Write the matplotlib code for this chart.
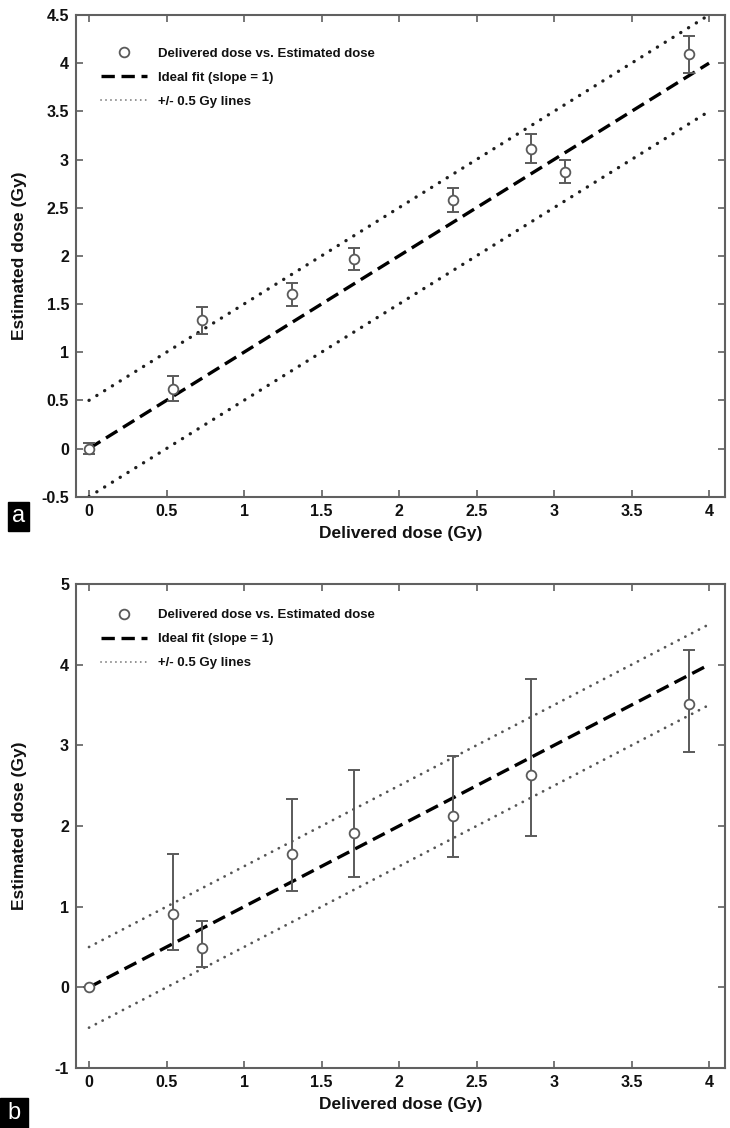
import matplotlib
matplotlib.use('Agg')
import matplotlib.pyplot as plt
import numpy as np

plt.rcParams['font.family'] = ['Liberation Sans', 'DejaVu Sans']

# Panel a data (delivered vs estimated, symmetric error)
delivered_a = [0.0, 0.54, 0.73, 1.31, 1.71, 2.35, 2.85, 3.07, 3.87]
estimated_a = [0.0, 0.62, 1.33, 1.60, 1.965, 2.58, 3.11, 2.875, 4.09]
err_a = [0.06, 0.13, 0.14, 0.12, 0.115, 0.12, 0.15, 0.115, 0.195]

# Panel b data (asymmetric error bars)
delivered_b = [0.0, 0.54, 0.73, 1.31, 1.71, 2.35, 2.85, 3.87]
estimated_b = [0.0, 0.905, 0.49, 1.65, 1.91, 2.13, 2.63, 3.51]
upper_b = [0.0, 1.65, 0.82, 2.33, 2.69, 2.87, 3.82, 4.18]
lower_b = [0.0, 0.46, 0.25, 1.19, 1.37, 1.61, 1.87, 2.92]

ideal_x = [0, 4]
x_ticks = np.arange(0, 4.01, 0.5)
x_ticklabels = ['0', '0.5', '1', '1.5', '2', '2.5', '3', '3.5', '4']
y_ticks_a = np.arange(-0.5, 4.51, 0.5)
y_ticklabels_a = ['-0.5', '0', '0.5', '1', '1.5', '2', '2.5', '3', '3.5', '4', '4.5']
y_ticks_b = np.arange(-1, 5.01, 1)
y_ticklabels_b = ['-1', '0', '1', '2', '3', '4', '5']

W, H = 730, 1128
fig = plt.figure(figsize=(W / 100, H / 100), dpi=100)

spine_col = '#606060'
err_col = '#5a5a5a'


def style_axes(ax, yticks, yticklabels, ylim):
    ax.set_xlim(-0.084, 4.103)
    ax.set_ylim(*ylim)
    ax.set_xticks(x_ticks)
    ax.set_xticklabels(x_ticklabels)
    ax.set_yticks(yticks)
    ax.set_yticklabels(yticklabels)
    for s in ax.spines.values():
        s.set_color(spine_col)
        s.set_linewidth(1.5)
    ax.tick_params(direction='in', length=5, width=1.2, color=spine_col,
                   top=True, right=True, labelsize=11.5, pad=5)
    for lab in ax.get_xticklabels() + ax.get_yticklabels():
        lab.set_fontweight('bold')
        lab.set_color('#111111')
    ax.set_xlabel('Delivered dose (Gy)', fontsize=12.5, fontweight='bold',
                  color='#111111', labelpad=5)
    ax.set_ylabel('Estimated dose (Gy)', fontsize=12.5, fontweight='bold',
                  color='#111111')
    ax.yaxis.set_label_coords((27 - 76) / 649, 0.5)


def draw_panel(ax, x, y, yerr, dot_col, dot_lw, legend_top):
    ax.errorbar(x, y, yerr=yerr, fmt='none', ecolor=err_col, elinewidth=1.4,
                capsize=4.5, capthick=1.4, zorder=3)
    h_pts, = ax.plot(x, y, 'o', ms=7, mfc='white', mec=err_col, mew=1.3,
                     zorder=4)
    h_fit, = ax.plot(ideal_x, ideal_x, color='black', lw=2.4, dashes=(4, 2),
                     zorder=2)
    h_dot, = ax.plot(ideal_x, [v + 0.5 for v in ideal_x], color=dot_col, lw=dot_lw,
                     dashes=(0.05, 2.7), dash_capstyle='round', zorder=2)
    ax.plot(ideal_x, [v - 0.5 for v in ideal_x], color=dot_col, lw=dot_lw,
            dashes=(0.05, 2.7), dash_capstyle='round', zorder=2)
    leg = ax.legend([h_pts, h_fit, h_dot],
                    ['Delivered dose vs. Estimated dose', 'Ideal fit (slope = 1)',
                     '+/- 0.5 Gy lines'],
                    loc='upper left', bbox_to_anchor=(0.028, legend_top),
                    frameon=False, borderpad=0, handlelength=3.5,
                    handletextpad=0.8, labelspacing=0.9,
                    prop={'size': 9.5, 'weight': 'bold'})
    for t in leg.get_texts():
        t.set_color('#111111')
    # legend dotted sample is finer than the plotted line
    leg.get_lines()[2].set_linewidth(1.3)
    leg.get_lines()[2].set_color('#777777')


ax_a = fig.add_axes([76 / W, 1 - 496.7 / H, 649 / W, (496.7 - 15) / H])
draw_panel(ax_a, delivered_a, estimated_a, err_a, '#1e1e1e', 2.4, 0.946)
style_axes(ax_a, y_ticks_a, y_ticklabels_a, (-0.5, 4.5))

ax_b = fig.add_axes([76 / W, 1 - 1068 / H, 649 / W, (1068 - 584) / H])
yerr_b = [[e - l for e, l in zip(estimated_b, lower_b)],
          [u - e for u, e in zip(upper_b, estimated_b)]]
draw_panel(ax_b, delivered_b, estimated_b, yerr_b, '#555555', 2.0, 0.962)
style_axes(ax_b, y_ticks_b, y_ticklabels_b, (-1, 5))

# panel letters
for letter, x0, y0, x1, y1 in [('a', 8, 502, 29, 531), ('b', 0, 1098, 28, 1128)]:
    fig.patches.append(plt.Rectangle((x0 / W, 1 - y1 / H), (x1 - x0) / W, (y1 - y0) / H,
                                     transform=fig.transFigure, color='black', zorder=5))
    fig.text((x0 + x1) / 2 / W, 1 - (y0 + y1) / 2 / H, letter, color='white',
             fontsize=17, ha='center', va='center', zorder=6)

fig.savefig('out.png', dpi=100)
